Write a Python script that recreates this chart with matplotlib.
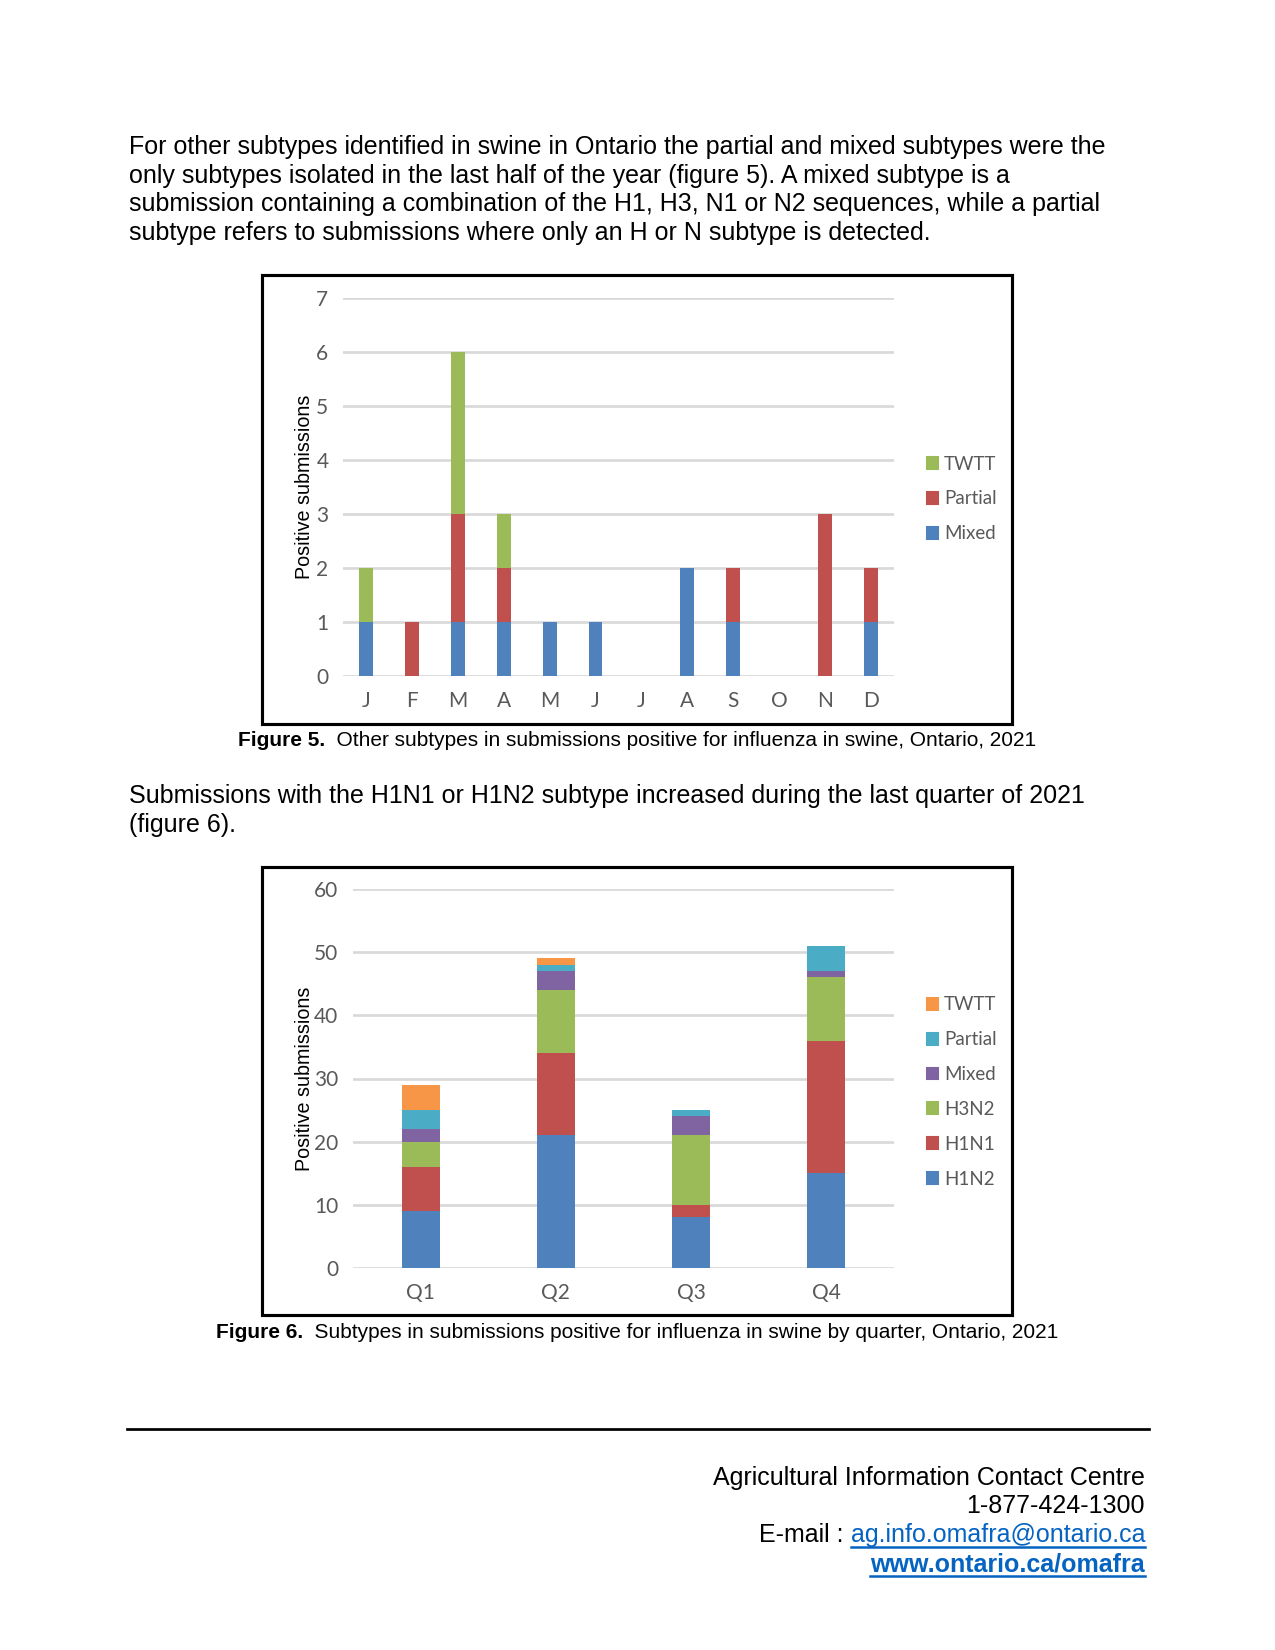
import numpy as np
import matplotlib.pyplot as plt
from matplotlib.patches import Rectangle, Patch
from matplotlib.lines import Line2D

##################################
# Data
months = ['J', 'F', 'M', 'A', 'M', 'J', 'J', 'A', 'S', 'O', 'N', 'D']
f5_mixed = [1, 0, 1, 1, 1, 1, 0, 2, 1, 0, 0, 1]
f5_partial = [0, 1, 2, 1, 0, 0, 0, 0, 1, 0, 3, 1]
f5_twtt = [1, 0, 3, 1, 0, 0, 0, 0, 0, 0, 0, 0]

quarters = ['Q1', 'Q2', 'Q3', 'Q4']
f6_h1n2 = [9, 21, 8, 15]
f6_h1n1 = [7, 13, 2, 21]
f6_h3n2 = [4, 10, 11, 10]
f6_mixed = [2, 3, 3, 1]
f6_partial = [3, 1, 1, 4]
f6_twtt = [4, 1, 0, 0]

para1 = ["For other subtypes identified in swine in Ontario the partial and mixed subtypes were the",
         "only subtypes isolated in the last half of the year (figure 5). A mixed subtype is a",
         "submission containing a combination of the H1, H3, N1 or N2 sequences, while a partial",
         "subtype refers to submissions where only an H or N subtype is detected."]
para2 = ["Submissions with the H1N1 or H1N2 subtype increased during the last quarter of 2021",
         "(figure 6)."]
cap5 = ("Figure 5.", "  Other subtypes in submissions positive for influenza in swine, Ontario, 2021")
cap6 = ("Figure 6.", "  Subtypes in submissions positive for influenza in swine by quarter, Ontario, 2021")

##################################
# Styles
BLUE, RED, GREEN, PURPLE, AQUA, ORANGE = '#4F81BD', '#C0504D', '#9BBB59', '#8064A2', '#4BACC6', '#F79646'
W, H = 1275, 1650
TXT = ['Liberation Sans', 'DejaVu Sans']
CHART = ['Lato', 'DejaVu Sans']
BODY = 12

fig = plt.figure(figsize=(W/150, H/150), dpi=150)
fig.patch.set_facecolor('white')

def px_axes(x0, x1, y_top, y_bot):
    return fig.add_axes([x0/W, 1 - y_bot/H, (x1 - x0)/W, (y_bot - y_top)/H])

def style_axes(ax, ymax, step):
    ax.set_ylim(0, ymax)
    ax.set_yticks(np.arange(0, ymax + 0.01, step))
    ax.grid(axis='y', color='#D9D9D9', linewidth=1.3)
    ax.set_axisbelow(True)
    for s in ax.spines.values():
        s.set_visible(False)
    ax.tick_params(length=0, labelsize=10, labelcolor='#595959', pad=7)
    for lab in ax.get_xticklabels() + ax.get_yticklabels():
        lab.set_family(CHART)

def stacked(ax, cats, series, colors, width):
    x = np.arange(len(cats))
    bottom = np.zeros(len(cats))
    for vals, c in zip(series, colors):
        ax.bar(x, vals, width, bottom=bottom, color=c, linewidth=0)
        bottom += np.array(vals)
    ax.set_xticks(x)
    ax.set_xticklabels(cats)
    ax.set_xlim(-0.5, len(cats) - 0.5)

def legend(ax, colors, labels, y):
    h = [Patch(color=c, label=l) for c, l in zip(colors, labels)]
    leg = ax.legend(handles=h, loc='center left', bbox_to_anchor=(927/W, 1 - y/H),
                    bbox_transform=fig.transFigure, frameon=False, borderaxespad=0, borderpad=0,
                    handlelength=0.6, handleheight=0.6, handletextpad=0.3, labelspacing=0.95,
                    prop={'family': CHART, 'size': 9})
    for t in leg.get_texts():
        t.set_color('#595959')

def caption(parts, y):
    fig.canvas.draw()
    r = fig.canvas.get_renderer()
    t1 = fig.text(0, 1 - y/H, parts[0], fontsize=10, weight='bold', family=TXT, va='center')
    t2 = fig.text(0, 1 - y/H, parts[1], fontsize=10, family=TXT, va='center')
    w1 = t1.get_window_extent(r).width
    w2 = t2.get_window_extent(r).width
    x0 = 637 - (w1 + w2)/2
    t1.set_x(x0/W)
    t2.set_x((x0 + w1)/W)

##################################
# Paragraph 1
for i, line in enumerate(para1):
    fig.text(129/W, 1 - (147 + i*28.6)/H, line, fontsize=BODY, family=TXT, va='center')

##################################
# Figure 5
fig.patches.append(Rectangle((262/W, 1 - 724/H), 750/W, 449/H, transform=fig.transFigure,
                             fill=False, edgecolor='black', linewidth=1.5))
ax5 = px_axes(343, 894, 298, 676)
stacked(ax5, months, [f5_mixed, f5_partial, f5_twtt], [BLUE, RED, GREEN], 0.3)
style_axes(ax5, 7, 1)
ax5.set_ylabel('Positive submissions', fontsize=9.5, family=TXT, labelpad=1)
legend(ax5, [GREEN, RED, BLUE], ['TWTT', 'Partial', 'Mixed'], 499)
caption(cap5, 741)

##################################
# Paragraph 2
for i, line in enumerate(para2):
    fig.text(129/W, 1 - (796 + i*28.6)/H, line, fontsize=BODY, family=TXT, va='center')

##################################
# Figure 6
fig.patches.append(Rectangle((262/W, 1 - 1315/H), 750/W, 448/H, transform=fig.transFigure,
                             fill=False, edgecolor='black', linewidth=1.5))
ax6 = px_axes(353, 894, 889, 1268)
stacked(ax6, quarters, [f6_h1n2, f6_h1n1, f6_h3n2, f6_mixed, f6_partial, f6_twtt],
        [BLUE, RED, GREEN, PURPLE, AQUA, ORANGE], 0.28)
style_axes(ax6, 60, 10)
ax6.set_ylabel('Positive submissions', fontsize=9.5, family=TXT, labelpad=0)
legend(ax6, [ORANGE, AQUA, PURPLE, GREEN, RED, BLUE],
       ['TWTT', 'Partial', 'Mixed', 'H3N2', 'H1N1', 'H1N2'], 1092)
caption(cap6, 1333)

##################################
# Footer
fig.add_artist(Line2D([127/W, 1149/W], [1 - 1429/H, 1 - 1429/H], color='black', linewidth=1.3))
fig.canvas.draw()
r = fig.canvas.get_renderer()
fig.text(1145/W, 1 - 1478/H, 'Agricultural Information Contact Centre', fontsize=BODY, family=TXT,
         ha='right', va='center')
fig.text(1145/W, 1 - 1506/H, '1-877-424-1300', fontsize=BODY, family=TXT, ha='right', va='center')
mail = fig.text(1145/W, 1 - 1535/H, 'ag.info.omafra@ontario.ca', fontsize=BODY, family=TXT,
                ha='right', va='center', color='#0563C1')
mw = mail.get_window_extent(r).width
fig.text((1145 - mw)/W, 1 - 1535/H, 'E-mail : ', fontsize=BODY, family=TXT, ha='right', va='center')
web = fig.text(1145/W, 1 - 1564/H, 'www.ontario.ca/omafra', fontsize=BODY, family=TXT, weight='bold',
               ha='right', va='center', color='#0563C1')
ww = web.get_window_extent(r).width
for w, y in [(mw, 1535), (ww, 1564)]:
    fig.add_artist(Line2D([(1145 - w)/W, 1145/W], [1 - (y + 12)/H, 1 - (y + 12)/H],
                          color='#0563C1', linewidth=1.2))

fig.savefig('out.png', dpi=150, facecolor='white')
